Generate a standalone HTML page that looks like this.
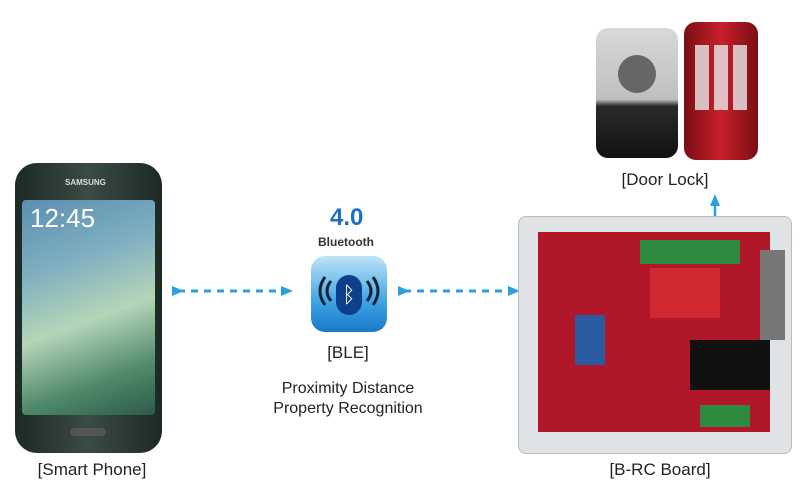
<!DOCTYPE html>
<html><head><style>
body{margin:0;width:810px;height:501px;background:#fff;position:relative;overflow:hidden;font-family:"Liberation Sans",sans-serif;color:#222}
.a{position:absolute}
.lbl{position:absolute;font-size:17px;text-align:center;white-space:nowrap}
</style></head><body>
<!-- phone -->
<div class="a" style="left:15px;top:163px;width:147px;height:290px;border-radius:22px;background:linear-gradient(90deg,#1c2a26,#3a4a44 50%,#1c2a26)"></div>
<div class="a" style="left:22px;top:200px;width:133px;height:215px;border-radius:4px;background:linear-gradient(160deg,#5a8fb0 0%,#7fb0c0 30%,#b6d5b8 55%,#4f8a6a 80%,#2c5a4a 100%)"></div>
<div class="a" style="left:30px;top:203px;color:#fff;font-size:26px">12:45</div>
<div class="a" style="left:65px;top:178px;color:#ddd;font-size:8px;font-weight:bold">SAMSUNG</div>
<div class="a" style="left:70px;top:428px;width:36px;height:8px;border-radius:4px;background:#555"></div>
<div class="lbl" style="left:22px;top:460px;width:140px">[Smart Phone]</div>
<!-- arrows -->
<svg class="a" style="left:0;top:0" width="810" height="501">
<defs><marker id="m" markerUnits="userSpaceOnUse" markerWidth="12" markerHeight="10" refX="6" refY="5" orient="auto"><path d="M0,0 L12,5 L0,10z" fill="#2aa0e0"/></marker></defs>
<g stroke="#2aa0e0" stroke-width="3" stroke-dasharray="7,6" fill="none">
<line x1="178" y1="291" x2="287" y2="291" marker-start="url(#m)" marker-end="url(#m)"/>
<line x1="404" y1="291" x2="514" y2="291" marker-start="url(#m)" marker-end="url(#m)"/>
</g>
<line x1="715" y1="222" x2="715" y2="200" stroke="#2aa0e0" stroke-width="2.5" marker-end="url(#m)"/>
</svg>
<!-- BLE -->
<div class="a" style="left:330px;top:204px;font-size:24px;font-weight:bold;color:#1f6fc0">4.0</div>
<div class="a" style="left:318px;top:235px;font-size:12px;font-weight:bold;color:#333">Bluetooth</div>
<div class="a" style="left:311px;top:256px;width:76px;height:76px;border-radius:14px;background:linear-gradient(#bfe4f8,#3fa4e6 60%,#1a78c8)"></div>
<div class="a" style="left:336px;top:275px;width:26px;height:40px;border-radius:13px;background:#0d3f8a;color:#fff;font-size:22px;text-align:center;line-height:40px">ᛒ</div>
<svg class="a" style="left:311px;top:256px" width="76" height="76"><g stroke="#123" stroke-width="3" fill="none"><path d="M20,25 Q12,35 20,45"/><path d="M14,21 Q4,35 14,49"/><path d="M56,25 Q64,35 56,45"/><path d="M62,21 Q72,35 62,49"/></g></svg>
<div class="lbl" style="left:300px;top:343px;width:96px">[BLE]</div>
<div class="lbl" style="left:240px;top:380px;width:216px;font-size:16px">Proximity Distance</div>
<div class="lbl" style="left:240px;top:400px;width:216px;font-size:16px">Property Recognition</div>
<!-- board -->
<div class="a" style="left:518px;top:216px;width:272px;height:236px;border-radius:8px;background:#dfe3e6;border:1px solid #bbb"></div>
<div class="a" style="left:538px;top:232px;width:232px;height:200px;background:#b0182a"></div>
<div class="a" style="left:640px;top:240px;width:100px;height:24px;background:#2e8a3e"></div>
<div class="a" style="left:650px;top:268px;width:70px;height:50px;background:#d02a30"></div>
<div class="a" style="left:690px;top:340px;width:80px;height:50px;background:#111"></div>
<div class="a" style="left:700px;top:405px;width:50px;height:22px;background:#2e8a3e"></div>
<div class="a" style="left:575px;top:315px;width:30px;height:50px;background:#2a5aa0"></div>
<div class="a" style="left:760px;top:250px;width:25px;height:90px;background:#777"></div>
<div class="lbl" style="left:590px;top:460px;width:140px">[B-RC Board]</div>
<!-- door locks -->
<div class="a" style="left:596px;top:28px;width:82px;height:130px;border-radius:12px;background:linear-gradient(#d8d8d8 0%,#bfbfbf 55%,#2a2a2a 60%,#111)"></div>
<div class="a" style="left:618px;top:55px;width:38px;height:38px;border-radius:50%;background:#666"></div>
<div class="a" style="left:684px;top:22px;width:74px;height:138px;border-radius:12px;background:linear-gradient(90deg,#7a0e14,#c8202a 50%,#7a0e14)"></div>
<div class="a" style="left:695px;top:45px;width:52px;height:65px;background:repeating-linear-gradient(90deg,#e8e8e8 0 14px,transparent 14px 19px);opacity:.8"></div>
<div class="lbl" style="left:600px;top:170px;width:130px">[Door Lock]</div>
</body></html>
